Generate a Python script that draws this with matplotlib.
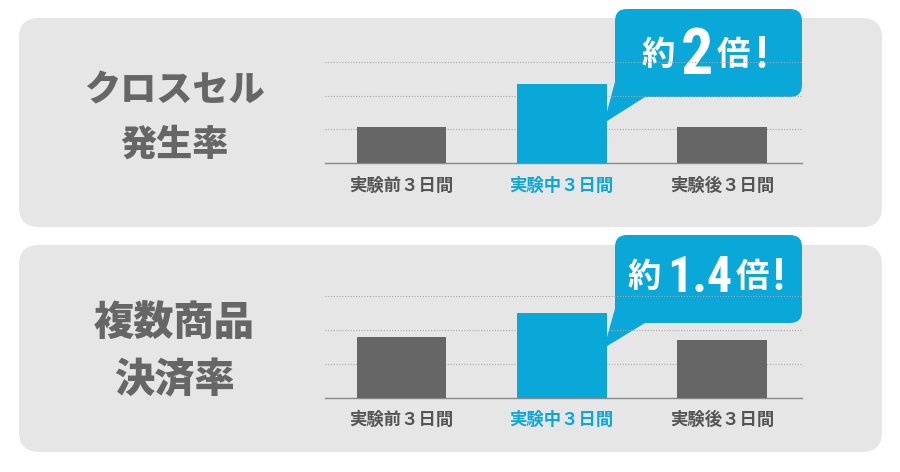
import matplotlib.pyplot as plt
from matplotlib.patches import FancyBboxPatch, Polygon
from matplotlib import font_manager

plt.rcParams["font.family"] = ["Noto Sans CJK JP", "DejaVu Sans"]

categories = ["実験前３日間", "実験中３日間", "実験後３日間"]
cross_sell = [1.07, 2.35, 1.07]
multi_item = [1.80, 2.50, 1.70]
titles = [["クロスセル", "発生率"], ["複数商品", "決済率"]]
callouts = [["約", "2", "倍", "!"], ["約", "1.4", "倍", "!"]]

GRAY = "#666666"
BLUE = "#0aa8d8"
PANEL = "#e6e6e6"

names = {f.name for f in font_manager.fontManager.ttflist}
NARROW = [n for n in ["Liberation Sans Narrow", "Roboto Condensed",
                      "DejaVu Sans Condensed"] if n in names]
NARROW = NARROW + ["Noto Sans CJK JP"]

fig = plt.figure(figsize=(9, 4.72), dpi=100)

# full-figure axes in pixel coordinates for the decorations
bg = fig.add_axes([0, 0, 1, 1])
bg.set_xlim(0, 900)
bg.set_ylim(472, 0)
bg.axis("off")

panels = [
    dict(top=18, bottom=227, base=163, grid_top=62, data=cross_sell,
         title_y=(90, 145), title_size=(26, 26),
         box=(615, 9, 802, 97), tail=((616, 78), (645, 97), (604, 123)),
         text_x=(658, 697, 733, 761), text_y=56, big_size=46),
    dict(top=245, bottom=452, base=397.5, grid_top=296, data=multi_item,
         title_y=(323, 380), title_size=(29, 29),
         box=(615, 235, 802, 323), tail=((616, 305), (645, 323), (604, 348)),
         text_x=(644, 700, 752, 778), text_y=278, big_size=36),
]

for i, p in enumerate(panels):
    bg.add_patch(FancyBboxPatch((19, p["top"]), 863, p["bottom"] - p["top"],
                                boxstyle="round,pad=0,rounding_size=20",
                                fc=PANEL, ec="none"))
    for line, y, fs in zip(titles[i], p["title_y"], p["title_size"]):
        bg.text(174, y, line, ha="center", va="center", fontsize=fs,
                fontweight="heavy", color=GRAY)

    # bar chart
    ax = fig.add_axes([325 / 900, 1 - p["base"] / 472,
                       477 / 900, (p["base"] - p["grid_top"]) / 472])
    ax.patch.set_alpha(0)
    x = range(len(categories))
    ax.bar(x, p["data"], width=0.56, color=[GRAY, BLUE, GRAY], zorder=3)
    ax.set_xlim(-0.478, 2.5)
    ax.set_ylim(0, 3)
    ax.set_yticks([1, 2, 3])
    ax.yaxis.grid(True, color="#a8a8a8", linestyle=(0, (1, 1.5)), linewidth=0.8)
    ax.tick_params(axis="y", left=False, labelleft=False)
    ax.tick_params(axis="x", length=0, pad=10)
    ax.set_xticks(list(x))
    ax.set_xticklabels(categories, fontsize=12.5, fontweight="bold")
    for lbl, c in zip(ax.get_xticklabels(), ["#555555", BLUE, "#555555"]):
        lbl.set_color(c)
    for s in ["top", "left", "right"]:
        ax.spines[s].set_visible(False)
    ax.spines["bottom"].set_color("#8a8a8a")
    ax.spines["bottom"].set_linewidth(1)

    # callout bubble
    x0, y0, x1, y1 = p["box"]
    bg.add_patch(Polygon(p["tail"], closed=True, fc=BLUE, ec="none", zorder=4))
    bg.add_patch(FancyBboxPatch((x0, y0), x1 - x0, y1 - y0,
                                boxstyle="round,pad=0,rounding_size=12",
                                fc=BLUE, ec="none", zorder=4))
    sizes = [24, p["big_size"], 24, 32]
    fams = [["Noto Sans CJK JP"], NARROW, ["Noto Sans CJK JP"], NARROW]
    for txt, tx, fs, fam in zip(callouts[i], p["text_x"], sizes, fams):
        bg.text(tx, p["text_y"], txt, ha="center", va="center", fontsize=fs,
                fontweight="bold", color="white", family=fam, zorder=5)

fig.savefig("out.png", dpi=100)
plt.close(fig)
